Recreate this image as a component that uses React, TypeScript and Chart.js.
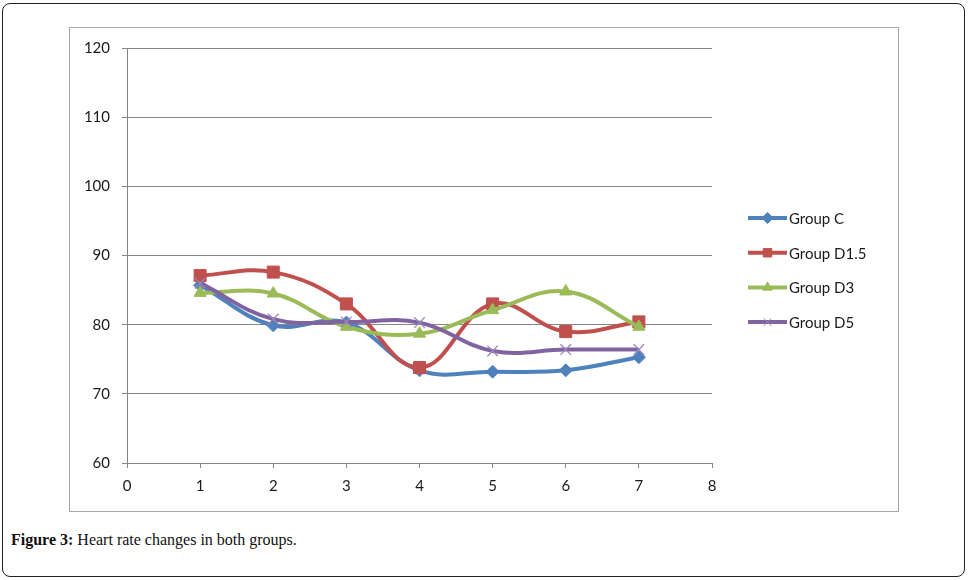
import React, { useEffect, useRef } from "react";
import { Chart, registerables } from "chart.js";
import { drawPoint } from "chart.js/helpers";

Chart.register(...registerables);

const xValues = [1, 2, 3, 4, 5, 6, 7];
const groupC = [85.7, 79.9, 80.3, 73.4, 73.2, 73.4, 75.3];
const groupD15 = [87.1, 87.6, 83.0, 73.8, 83.0, 79.0, 80.4];
const groupD3 = [84.6, 84.5, 79.7, 78.7, 82.1, 84.8, 79.7];
const groupD5 = [86.0, 80.8, 80.4, 80.3, 76.2, 76.4, 76.4];
const seriesNames = ["Group C", "Group D1.5", "Group D3", "Group D5"];
const xTicks = [0, 1, 2, 3, 4, 5, 6, 7, 8];
const yTicks = [60, 70, 80, 90, 100, 110, 120];

const COLORS = ["#4F81BD", "#C0504D", "#9BBB59", "#8064A2"];
const STYLES = ["rectRot", "rect", "triangle", "crossRot"];
const RADII = [6.5, 8.5, 7, 7.5];

const toPts = (arr: number[]) => arr.map((y, i) => ({ x: xValues[i], y }));

const legendPlugin = {
  id: "customLegend",
  afterDraw(chart: any) {
    const ctx = chart.ctx;
    const area = chart.chartArea;
    const x0 = area.right + 36;
    const x1 = x0 + 39;
    const startY = area.top + 170;
    const gap = 34.7;
    ctx.save();
    chart.data.datasets.forEach((ds: any, i: number) => {
      const y = startY + i * gap;
      ctx.strokeStyle = COLORS[i];
      ctx.lineWidth = 4;
      ctx.lineCap = "butt";
      ctx.beginPath();
      ctx.moveTo(x0, y);
      ctx.lineTo(x1, y);
      ctx.stroke();
      const opts = { pointStyle: STYLES[i], rotation: 0, radius: i === 1 ? 6 : 5.5, borderWidth: 1 } as any;
      ctx.fillStyle = COLORS[i];
      ctx.strokeStyle = i === 3 ? "#9b87b8" : COLORS[i];
      ctx.lineWidth = 1;
      drawPoint(ctx, opts, (x0 + x1) / 2, y);
      ctx.fillStyle = "#1a1a1a";
      ctx.font = "15px Lato";
      ctx.textBaseline = "middle";
      ctx.textAlign = "left";
      ctx.fillText(ds.label, x1 + 2, y + 1);
    });
    ctx.restore();
  },
};

export default function App() {
  const ref = useRef<HTMLCanvasElement | null>(null);

  useEffect(() => {
    if (!ref.current) return;
    const datasets = [groupC, groupD15, groupD3, groupD5].map((arr, i) => ({
      label: seriesNames[i],
      data: toPts(arr),
      borderColor: COLORS[i],
      backgroundColor: COLORS[i],
      pointBackgroundColor: COLORS[i],
      pointBorderColor: i === 3 ? "#9b87b8" : COLORS[i],
      pointBorderWidth: i === 3 ? 1.3 : 1,
      pointStyle: STYLES[i] as any,
      pointRadius: RADII[i],
      borderWidth: 4,
      tension: 0.4,
      order: 3 - i,
      fill: false,
    }));
    const chart = new Chart(ref.current, {
      type: "line",
      data: { datasets },
      plugins: [legendPlugin],
      options: {
        animation: false,
        responsive: false,
        devicePixelRatio: 1,
        layout: { padding: { left: 0, right: 186, top: 21, bottom: 0 } },
        plugins: { legend: { display: false }, tooltip: { enabled: false } },
        scales: {
          x: {
            type: "linear",
            min: 0,
            max: 8,
            afterFit: (s: any) => {
              s.height = 48;
            },
            afterBuildTicks: (s: any) => {
              s.ticks = xTicks.map((v) => ({ value: v }));
            },
            grid: {
              drawOnChartArea: false,
              drawTicks: true,
              tickLength: 5,
              color: "#868686",
            },
            border: { color: "#868686", width: 1 },
            ticks: {
              padding: 9,
              color: "#1a1a1a",
              font: { family: "Lato", size: 15 },
              maxRotation: 0,
            },
          },
          y: {
            type: "linear",
            min: 60,
            max: 120,
            afterFit: (s: any) => {
              s.width = 58;
            },
            afterBuildTicks: (s: any) => {
              s.ticks = yTicks.map((v) => ({ value: v }));
            },
            grid: {
              drawTicks: true,
              tickLength: 5,
              color: "#868686",
            },
            border: { color: "#868686", width: 1 },
            ticks: {
              padding: 12,
              color: "#1a1a1a",
              font: { family: "Lato", size: 15 },
            },
          },
        },
      },
    });
    return () => chart.destroy();
  }, []);

  return (
    <div
      style={{
        position: "absolute",
        left: 0,
        top: 0,
        width: 969,
        height: 580,
        background: "#fff",
      }}
    >
      <div
        style={{
          position: "absolute",
          left: 2,
          top: 3,
          width: 963,
          height: 574,
          border: "1px solid #222",
          borderRadius: 8,
          boxSizing: "border-box",
        }}
      />
      <canvas
        ref={ref}
        width={829}
        height={484}
        style={{ position: "absolute", left: 69, top: 27, width: 829, height: 484 }}
      />
      <div
        style={{
          position: "absolute",
          left: 69,
          top: 27,
          width: 830,
          height: 485,
          border: "1px solid #a8a8a8",
          boxSizing: "border-box",
          pointerEvents: "none",
        }}
      />
      <div
        style={{
          position: "absolute",
          left: 11,
          top: 531,
          fontFamily: "'Liberation Serif', 'DejaVu Serif', serif",
          fontSize: 16,
          color: "#111",
          whiteSpace: "nowrap",
        }}
      >
        <b>Figure 3:</b> Heart rate changes in both groups.
      </div>
    </div>
  );
}
